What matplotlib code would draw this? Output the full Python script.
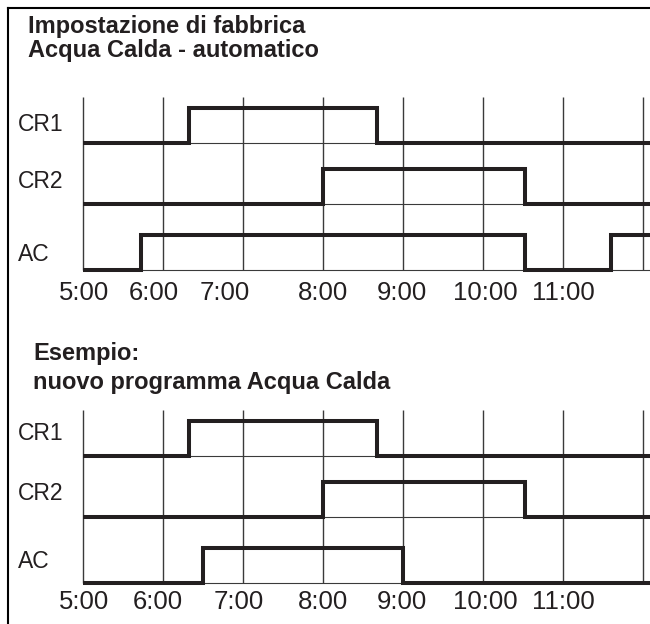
import matplotlib
matplotlib.use("Agg")
import matplotlib.pyplot as plt
from matplotlib.lines import Line2D
from matplotlib.transforms import blended_transform_factory

plt.rcParams['font.family'] = ['Liberation Sans', 'DejaVu Sans']

# ---------------- data ----------------
hours = [5, 6, 7, 8, 9, 10, 11, 12]
hour_labels = ["5:00", "6:00", "7:00", "8:00", "9:00", "10:00", "11:00"]
lanes = ["CR1", "CR2", "AC"]

titles_top = ["Impostazione di fabbrica", "Acqua Calda - automatico"]
titles_bottom = ["Esempio:", "nuovo programma Acqua Calda"]

# switching times (hours) and state after each switch (0 = off, 1 = on)
cr1_times = [5.0, 6.33, 8.67]
cr1_states = [0, 1, 0]
cr2_times = [5.0, 8.0, 10.53]
cr2_states = [0, 1, 0]
ac_factory_times = [5.0, 5.72, 10.53, 11.6]
ac_factory_states = [0, 1, 0, 1]
ac_new_times = [5.0, 6.5, 9.0]
ac_new_states = [0, 1, 0]

# ---------------- layout ----------------
W, H = 650, 624
fig = plt.figure(figsize=(W / 100, H / 100), dpi=100)
fig.patch.set_facecolor("white")

X0_PX, X_RIGHT_PX = 83, 650
PX_PER_HOUR = 80.0
XMIN = 5.0
XMAX = XMIN + (X_RIGHT_PX - X0_PX) / PX_PER_HOUR
PANEL_H = 173
lane_base = [46, 107, 173]   # baseline of each lane (px below panel top)
PULSE = 35
INK = "#231f20"
GRID = "#3a3a3a"

# small horizontal nudges of hour labels (px), as in the original drawing
label_shift_top = [1, -9, -18, 0, -1, 2, 0]
label_shift_bottom = [1, -5, -4, 0, -1, 2, 0]


def panel(top_px, series, shifts, tick_base, lane_label_base):
    ax = fig.add_axes([X0_PX / W, 1 - (top_px + PANEL_H) / H,
                       (X_RIGHT_PX - X0_PX) / W, PANEL_H / H])
    ax.set_xlim(XMIN, XMAX)
    ax.set_ylim(PANEL_H, 0)
    ax.axis("off")
    ax.vlines(hours, 0, PANEL_H, colors=GRID, linewidth=1.0, zorder=1,
              clip_on=False)
    ax.hlines(lane_base, XMIN, XMAX, colors=GRID, linewidth=0.8, zorder=1,
              clip_on=False)
    for (times, states), base in zip(series, lane_base):
        xs = list(times) + [XMAX]
        ys = [base - PULSE * s for s in states] + [base - PULSE * states[-1]]
        ax.plot(xs, ys, drawstyle="steps-post", color=INK, linewidth=2.9,
                solid_joinstyle="miter", solid_capstyle="butt",
                zorder=3, clip_on=False)
    for h, lab, dx in zip(hours, hour_labels, shifts):
        ax.text(h + dx / PX_PER_HOUR, tick_base, lab, ha="center",
                va="baseline", fontsize=18.5, color=INK, clip_on=False)
    tr = blended_transform_factory(fig.transFigure, ax.transData)
    for name, yb in zip(lanes, lane_label_base):
        ax.text(18 / W, yb, name, ha="left", va="baseline", fontsize=16.5,
                color=INK, transform=tr, clip_on=False)
    return ax


panel(97, [(cr1_times, cr1_states), (cr2_times, cr2_states),
           (ac_factory_times, ac_factory_states)],
      label_shift_top, 203, [34, 91, 164])
panel(410, [(cr1_times, cr1_states), (cr2_times, cr2_states),
            (ac_new_times, ac_new_states)],
      label_shift_bottom, 199, [30, 90, 158])

for txt, base in zip(titles_top, [33, 57]):
    fig.text(28 / W, 1 - base / H, txt, ha="left", va="baseline",
             fontsize=17, fontweight="bold", color=INK)
for txt, base in zip(titles_bottom, [360, 389]):
    fig.text(33 / W, 1 - base / H, txt, ha="left", va="baseline",
             fontsize=17, fontweight="bold", color=INK)

fig.add_artist(Line2D([8.3 / W, 8.3 / W], [0, 1 - 8.3 / H],
                      transform=fig.transFigure, color="black", linewidth=1.5))
fig.add_artist(Line2D([8.3 / W, 1], [1 - 8.3 / H, 1 - 8.3 / H],
                      transform=fig.transFigure, color="black", linewidth=1.5))

fig.savefig("out.png", dpi=100, facecolor="white")
